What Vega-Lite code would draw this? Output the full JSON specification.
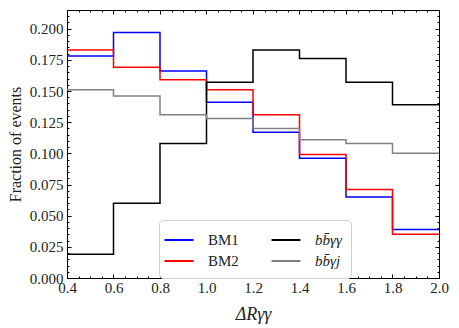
{
  "$schema": "https://vega.github.io/schema/vega-lite/v6.json",
  "width": 372,
  "height": 268,
  "autosize": {"type": "none"},
  "padding": {"left": 67, "top": 10, "right": 20, "bottom": 50},
  "background": "white",
  "config": {
    "view": {"stroke": "black", "strokeWidth": 1},
    "axis": {
      "grid": false,
      "domainColor": "black",
      "tickColor": "black",
      "labelFont": "Liberation Serif",
      "labelFontSize": 15,
      "labelColor": "#222",
      "titleFont": "Liberation Serif",
      "titleColor": "#222",
      "titleFontWeight": "normal"
    }
  },
  "data": {
    "values": [
      {"series": "BM1", "x": 0.4, "y": 0.178},
      {"series": "BM1", "x": 0.6, "y": 0.197},
      {"series": "BM1", "x": 0.8, "y": 0.166},
      {"series": "BM1", "x": 1.0, "y": 0.141},
      {"series": "BM1", "x": 1.2, "y": 0.117},
      {"series": "BM1", "x": 1.4, "y": 0.096},
      {"series": "BM1", "x": 1.6, "y": 0.065},
      {"series": "BM1", "x": 1.8, "y": 0.039},
      {"series": "BM1", "x": 2.0, "y": 0.039},
      {"series": "BM2", "x": 0.4, "y": 0.183},
      {"series": "BM2", "x": 0.6, "y": 0.169},
      {"series": "BM2", "x": 0.8, "y": 0.159},
      {"series": "BM2", "x": 1.0, "y": 0.151},
      {"series": "BM2", "x": 1.2, "y": 0.131},
      {"series": "BM2", "x": 1.4, "y": 0.099},
      {"series": "BM2", "x": 1.6, "y": 0.071},
      {"series": "BM2", "x": 1.8, "y": 0.035},
      {"series": "BM2", "x": 2.0, "y": 0.035},
      {"series": "bb\u0304\u03b3\u03b3", "x": 0.4, "y": 0.019},
      {"series": "bb\u0304\u03b3\u03b3", "x": 0.6, "y": 0.060},
      {"series": "bb\u0304\u03b3\u03b3", "x": 0.8, "y": 0.108},
      {"series": "bb\u0304\u03b3\u03b3", "x": 1.0, "y": 0.157},
      {"series": "bb\u0304\u03b3\u03b3", "x": 1.2, "y": 0.183},
      {"series": "bb\u0304\u03b3\u03b3", "x": 1.4, "y": 0.176},
      {"series": "bb\u0304\u03b3\u03b3", "x": 1.6, "y": 0.157},
      {"series": "bb\u0304\u03b3\u03b3", "x": 1.8, "y": 0.139},
      {"series": "bb\u0304\u03b3\u03b3", "x": 2.0, "y": 0.139},
      {"series": "bb\u0304\u03b3j", "x": 0.4, "y": 0.151},
      {"series": "bb\u0304\u03b3j", "x": 0.6, "y": 0.146},
      {"series": "bb\u0304\u03b3j", "x": 0.8, "y": 0.131},
      {"series": "bb\u0304\u03b3j", "x": 1.0, "y": 0.128},
      {"series": "bb\u0304\u03b3j", "x": 1.2, "y": 0.120},
      {"series": "bb\u0304\u03b3j", "x": 1.4, "y": 0.111},
      {"series": "bb\u0304\u03b3j", "x": 1.6, "y": 0.108},
      {"series": "bb\u0304\u03b3j", "x": 1.8, "y": 0.100},
      {"series": "bb\u0304\u03b3j", "x": 2.0, "y": 0.100}
    ]
  },
  "resolve": {"axis": {"x": "independent", "y": "independent"}},
  "layer": [
    {
      "mark": {"type": "line", "interpolate": "step-after", "strokeWidth": 1.5},
      "encoding": {
        "x": {
          "field": "x", "type": "quantitative",
          "scale": {"domain": [0.4, 2.0], "nice": false, "zero": false},
          "axis": {
            "orient": "bottom",
            "values": [0.4, 0.6, 0.8, 1.0, 1.2, 1.4, 1.6, 1.8, 2.0],
            "format": ".1f",
            "tickSize": -4,
            "labelPadding": 6,
            "labelFlush": false,
            "title": "\u0394R\u03b3\u03b3",
            "titleFontSize": 18,
            "titleFontStyle": "italic",
            "titlePadding": 10
          }
        },
        "y": {
          "field": "y", "type": "quantitative",
          "scale": {"domain": [0, 0.215], "nice": false},
          "axis": {
            "orient": "left",
            "values": [0, 0.025, 0.05, 0.075, 0.1, 0.125, 0.15, 0.175, 0.2],
            "format": ".3f",
            "tickSize": -4,
            "labelPadding": 8,
            "labelFlush": false,
            "title": "Fraction of events",
            "titleFontSize": 16,
            "titlePadding": 6
          }
        },
        "color": {
          "field": "series", "type": "nominal",
          "scale": {
            "domain": ["BM1", "bb\u0304\u03b3\u03b3", "BM2", "bb\u0304\u03b3j"],
            "range": ["#0000ff", "#000000", "#ff0000", "#808080"]
          },
          "legend": {
            "title": null,
            "orient": "none",
            "legendX": 92,
            "legendY": 210,
            "columns": 2,
            "direction": "horizontal",
            "symbolType": "M-1.45,0L1.45,0",
            "symbolSize": 400,
            "symbolStrokeWidth": 2,
            "symbolFillColor": "transparent",
            "labelFont": "Liberation Serif",
            "labelFontSize": 15,
            "labelColor": "#222",
            "labelOffset": 18,
            "columnPadding": 28,
            "rowPadding": 2,
            "padding": 9,
            "strokeColor": "#d0d0d0",
            "fillColor": "white",
            "cornerRadius": 4,
            "encode": {
              "labels": {
                "update": {
                  "fontStyle": {"signal": "indexof(datum.label, 'BM') === 0 ? 'normal' : 'italic'"}
                }
              }
            }
          }
        }
      }
    },
    {
      "mark": {"type": "point", "opacity": 0},
      "encoding": {
        "x": {"field": "x", "type": "quantitative",
          "axis": {"orient": "top", "values": [0.4, 0.6, 0.8, 1.0, 1.2, 1.4, 1.6, 1.8, 2.0], "labels": false, "tickSize": -4, "title": null}},
        "y": {"field": "y", "type": "quantitative",
          "axis": {"orient": "right", "values": [0, 0.025, 0.05, 0.075, 0.1, 0.125, 0.15, 0.175, 0.2], "labels": false, "tickSize": -4, "title": null}}
      }
    },
    {
      "mark": {"type": "point", "opacity": 0},
      "encoding": {
        "x": {"field": "x", "type": "quantitative",
          "axis": {"orient": "bottom", "values": [0.45, 0.5, 0.55, 0.65, 0.7, 0.75, 0.85, 0.9, 0.95, 1.05, 1.1, 1.15, 1.25, 1.3, 1.35, 1.45, 1.5, 1.55, 1.65, 1.7, 1.75, 1.85, 1.9, 1.95], "labels": false, "domain": false, "tickSize": -2, "title": null}},
        "y": {"field": "y", "type": "quantitative",
          "axis": {"orient": "left", "values": [0.005, 0.01, 0.015, 0.02, 0.03, 0.035, 0.04, 0.045, 0.055, 0.06, 0.065, 0.07, 0.08, 0.085, 0.09, 0.095, 0.105, 0.11, 0.115, 0.12, 0.13, 0.135, 0.14, 0.145, 0.155, 0.16, 0.165, 0.17, 0.18, 0.185, 0.19, 0.195, 0.205, 0.21], "labels": false, "domain": false, "tickSize": -2, "title": null}}
      }
    },
    {
      "mark": {"type": "point", "opacity": 0},
      "encoding": {
        "x": {"field": "x", "type": "quantitative",
          "axis": {"orient": "top", "values": [0.45, 0.5, 0.55, 0.65, 0.7, 0.75, 0.85, 0.9, 0.95, 1.05, 1.1, 1.15, 1.25, 1.3, 1.35, 1.45, 1.5, 1.55, 1.65, 1.7, 1.75, 1.85, 1.9, 1.95], "labels": false, "domain": false, "tickSize": -2, "title": null}},
        "y": {"field": "y", "type": "quantitative",
          "axis": {"orient": "right", "values": [0.005, 0.01, 0.015, 0.02, 0.03, 0.035, 0.04, 0.045, 0.055, 0.06, 0.065, 0.07, 0.08, 0.085, 0.09, 0.095, 0.105, 0.11, 0.115, 0.12, 0.13, 0.135, 0.14, 0.145, 0.155, 0.16, 0.165, 0.17, 0.18, 0.185, 0.19, 0.195, 0.205, 0.21], "labels": false, "domain": false, "tickSize": -2, "title": null}}
      }
    }
  ]
}
